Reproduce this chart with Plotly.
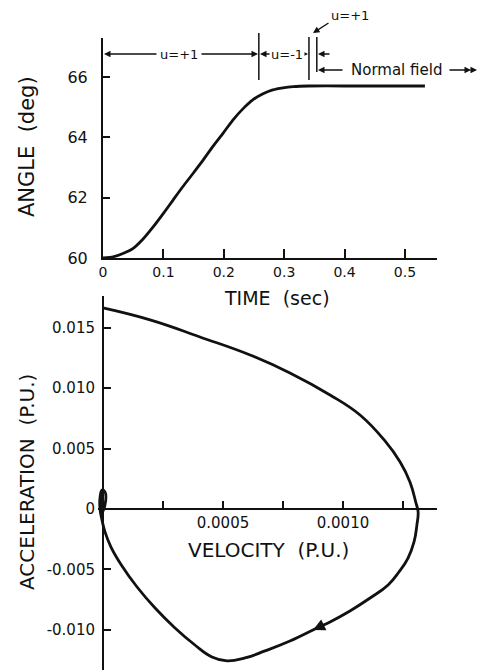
import plotly.graph_objects as go

# ---------------- data ----------------
time_s = [0, 0.017, 0.033, 0.05, 0.066, 0.083, 0.1, 0.116, 0.132, 0.149, 0.166,
          0.182, 0.199, 0.215, 0.232, 0.248, 0.265, 0.281, 0.298, 0.315, 0.34,
          0.4, 0.45, 0.5, 0.533]
angle_deg = [60, 60.04, 60.15, 60.32, 60.62, 61.03, 61.48, 61.92, 62.36, 62.8,
             63.25, 63.7, 64.14, 64.57, 64.95, 65.24, 65.44, 65.57, 65.64,
             65.68, 65.7, 65.7, 65.7, 65.7, 65.7]

velocity_pu = [0, 0.000196, 0.000404, 0.000613, 0.000779, 0.000946, 0.001071,
               0.001175, 0.001238, 0.001279, 0.001304, 0.001313, 0.001308,
               0.001296, 0.001271, 0.001233, 0.001188, 0.001113, 0.001029,
               0.000946, 0.000892, 0.000779, 0.000675, 0.000592, 0.000517,
               0.000454, 0.000383, 0.0003, 0.000217, 0.000142, 0.0000792,
               0.0000333, 0.0000083, -0.0000042, -0.0000125, -0.0000125,
               -0.000004, 0.0000083, 0.0000083, -0.000004, -0.0000083, 0.0]
accel_pu = [0.01664, 0.01565, 0.01424, 0.01275, 0.01126, 0.00944, 0.00778,
            0.00563, 0.00389, 0.00224, 0.0005, -0.00025, -0.00132, -0.00273,
            -0.00406, -0.00522, -0.00629, -0.00737, -0.00844, -0.00935,
            -0.00985, -0.01093, -0.01175, -0.01233, -0.01258, -0.01225,
            -0.01126, -0.00985, -0.0082, -0.00646, -0.00472, -0.00315,
            -0.0019, -0.00091, 0.0, 0.00091, 0.00157, 0.00141, 0.00033,
            -0.00025, 0.00075, 0.00149]

switch_times = [0.258, 0.341, 0.354]

time_ticks = [0, 0.1, 0.2, 0.3, 0.4, 0.5]
time_labels = ["0", "0.1", "0.2", "0.3", "0.4", "0.5"]
angle_ticks = [60, 62, 64, 66]
angle_labels = ["60", "62", "64", "66"]
vel_ticks = [0.00025, 0.0005, 0.00075, 0.001, 0.00125]
vel_labels = ["", "0.0005", "", "0.0010", ""]
acc_ticks = [0.015, 0.010, 0.005, 0, -0.005, -0.010]
acc_labels = ["0.015", "0.010", "0.005", "0", "-0.005", "-0.010"]

# ---------------- layout geometry ----------------
W, H = 479, 670
ML, MR, MT, MB = 98, 42, 38, 0
PW, PH = W - ML - MR, H - MT - MB


def X(px):
    return (px - ML) / PW


def Y(py):
    return (H - MB - py) / PH


FONT = "DejaVu Sans"
BLACK = "#111111"

top_xrange = [0, 0.553]
top_yrange = [60, 67.29]
bot_xrange = [-0.0000208, 0.0013917]
bot_yrange = [-0.01333, 0.01763]
top_ydom = [Y(258), 1]
bot_ydom = [0, Y(296)]

fig = go.Figure()
fig.add_trace(go.Scatter(x=time_s, y=angle_deg, mode="lines", xaxis="x", yaxis="y",
                         line=dict(color=BLACK, width=2.8, shape="spline", smoothing=0.6),
                         showlegend=False))
fig.add_trace(go.Scatter(x=velocity_pu, y=accel_pu, mode="lines", xaxis="x2", yaxis="y2",
                         line=dict(color=BLACK, width=2.8, shape="spline", smoothing=1.25),
                         showlegend=False))

y0_pos = bot_ydom[0] + (0 - bot_yrange[0]) / (bot_yrange[1] - bot_yrange[0]) * (bot_ydom[1] - bot_ydom[0])
x0_pos = (0 - bot_xrange[0]) / (bot_xrange[1] - bot_xrange[0])

axis_common = dict(showgrid=False, zeroline=False, showline=True, linecolor=BLACK,
                   linewidth=2, ticks="inside", tickcolor=BLACK, tickwidth=1.5,
                   automargin=False)


def tf(size):
    return dict(family=FONT, size=size, color=BLACK)


fig.update_layout(
    width=W, height=H, autosize=False,
    margin=dict(l=ML, r=MR, t=MT, b=MB, autoexpand=False),
    paper_bgcolor="white", plot_bgcolor="white",
    showlegend=False,
    xaxis=dict(domain=[X(103), 1], range=top_xrange, anchor="y",
               tickvals=time_ticks, ticktext=time_labels, ticklen=9,
               tickfont=tf(14), **axis_common),
    yaxis=dict(domain=top_ydom, range=top_yrange, anchor="x",
               tickvals=angle_ticks, ticktext=angle_labels, ticklen=7,
               tickfont=tf(16), ticklabelstandoff=10, **axis_common),
    xaxis2=dict(domain=[0, 1], range=bot_xrange, anchor="free", position=y0_pos,
                tickvals=vel_ticks, ticktext=vel_labels, ticklen=7,
                tickfont=tf(15), **axis_common),
    yaxis2=dict(domain=bot_ydom, range=bot_yrange, anchor="free", position=x0_pos,
                tickvals=acc_ticks, ticktext=acc_labels, ticklen=7,
                tickfont=tf(15), ticklabelstandoff=4, **axis_common),
)

# switching instants (vertical marker lines)
line_tops = [33, 37, 37]
line_bots = [80, 80, 72]
for t, ytop, ybot in zip(switch_times, line_tops, line_bots):
    fig.add_shape(type="line", xref="x", yref="paper", x0=t, x1=t,
                  y0=Y(ybot), y1=Y(ytop), line=dict(color=BLACK, width=1.5))

ann = []


def arrow(hx, hy, dx, dy, head=2, size=1.0):
    ann.append(dict(xref="paper", yref="paper", x=X(hx), y=Y(hy), ax=dx, ay=dy,
                    axref="pixel", ayref="pixel", text="", showarrow=True,
                    arrowhead=head, arrowsize=size, arrowwidth=1.3, arrowcolor=BLACK,
                    standoff=0, startstandoff=0))


def label(px, py, text, size, angle=0, bg=None):
    d = dict(xref="paper", yref="paper", x=X(px), y=Y(py), text=text, showarrow=False,
             textangle=angle, xanchor="center", yanchor="middle", font=tf(size))
    if bg:
        d.update(bgcolor=bg, borderpad=1)
    ann.append(d)


# row of arrows over the top panel
arrow(104, 54, 54, 0)
arrow(258, 54, -58, 0)
label(179, 54, "u=+1", 13, bg="white")
arrow(260, 54, 27, 0)
arrow(308, 54, -21, 0)
label(287, 54, "u=-1", 13, bg="white")
arrow(318, 54, 13, 0)
arrow(313, 33, 17, -11)
label(350, 15, "u=+1", 13)
arrow(318, 70, 26, 0)
label(396, 70, "Normal field", 15)
arrow(471, 70, -23, 0)
arrow(477, 70, -8, 0)

# axis titles
label(27, 147, "ANGLE  (deg)", 21, angle=-90)
label(277, 298, "TIME  (sec)", 19)
label(27, 482, "ACCELERATION  (P.U.)", 20, angle=-90)
label(268, 550, "VELOCITY  (P.U.)", 20)

# direction arrow on the phase trajectory
ann.append(dict(xref="x2", yref="y2", x=0.000875, y=-0.01002, ax=0.000975, ay=-0.00906,
                axref="x2", ayref="y2", text="", showarrow=True, arrowhead=2,
                arrowsize=1.6, arrowwidth=1.5, arrowcolor=BLACK, standoff=0))

fig.update_layout(annotations=ann)
fig.write_html("out.html",
               config={"displayModeBar": False, "responsive": False},
               post_script="document.body.style.margin='0';document.body.style.overflow='hidden';")
